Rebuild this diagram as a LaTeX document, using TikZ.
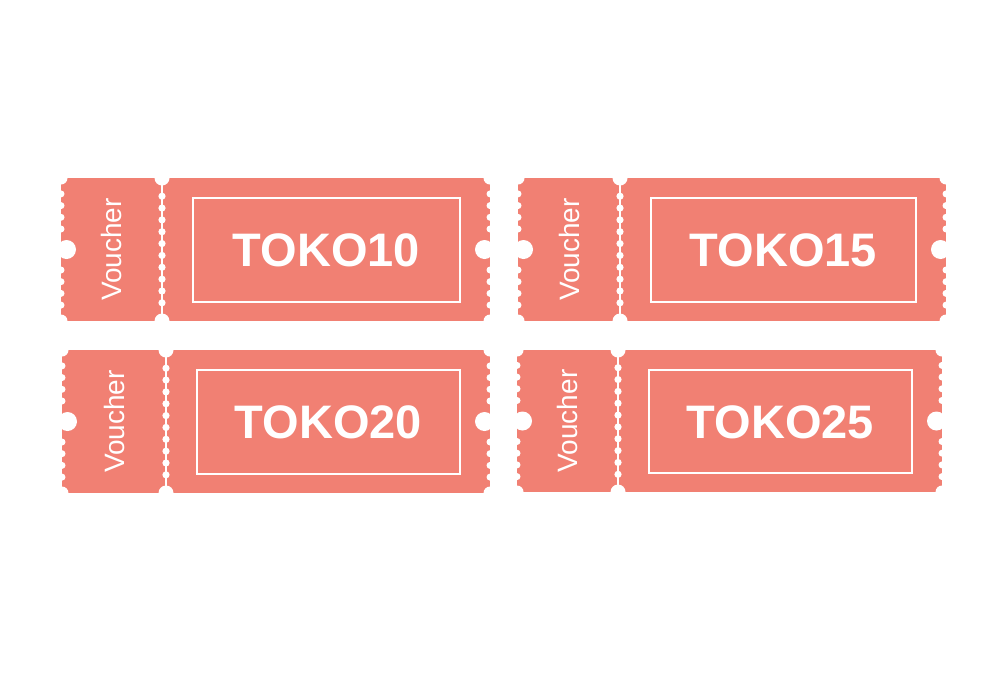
\documentclass[tikz,border=0pt]{standalone}
\usepackage{fontspec}
\setmainfont{Liberation Sans}
\definecolor{tk}{RGB}{241,128,115}
\tikzset{
  tkfill/.style={fill=tk},
  bite/.style={fill=white},
  frameline/.style={draw=white,line width=1.8pt},
  codetext/.style={text=white,font=\fontsize{47}{56}\selectfont\bfseries,inner sep=0pt},
  vtext/.style={text=white,font=\fontsize{28}{34}\selectfont,rotate=90,inner sep=0pt}
}
% #1 x0, #2 y0, #3 x1, #4 y1, #5 separator x, #6 code, #7 name
\newcommand{\myticket}[7]{%
  \fill[tkfill] (#1,#2) rectangle (#3,#4);
  \pgfmathsetmacro\cy{(#2+#4)/2}
  % corner bites
  \fill[bite] (#1,#2) circle (6.5pt);
  \fill[bite] (#1,#4) circle (6.5pt);
  \fill[bite] (#3,#2) circle (6.5pt);
  \fill[bite] (#3,#4) circle (6.5pt);
  % separator notches and perforation
  \fill[bite] (#5,#2) circle (7.5pt);
  \fill[bite] (#5,#4) circle (7.5pt);
  \draw[white,line width=1.2pt] (#5,#2) -- (#5,#4);
  \foreach \k in {-4.5,-3.5,...,4.5}{\fill[bite] (#5,\cy+\k*11.85) circle (3.6pt);}
  % edge scallops
  \foreach \s in {-1,1}{\foreach \k in {0,1,2,3}{%
    \fill[bite] (#1,\cy+\s*20.5+\s*\k*11.7) circle (3.5pt);
    \fill[bite] (#3,\cy+\s*20.5+\s*\k*11.7) circle (3.5pt);}}
  % side notches
  \fill[bite] (#1+5.5,\cy) circle (9.5pt);
  \fill[bite] (#3-5.5,\cy) circle (9.5pt);
  % inner frame
  \draw[frameline] (#5+31,#2+20) rectangle (#3-30,#4-19);
  \node[codetext] (#7code) at ({(#5+31+#3-30)/2},\cy+1) {#6};
  \node[vtext] (#7v) at ({(#1+#5)/2},\cy) {Voucher};
}
\begin{document}
\begin{tikzpicture}[x=1pt,y=-1pt]
  \fill[white] (0,0) rectangle (1008,672);
  \useasboundingbox (0,0) rectangle (1008,672);
  \myticket{61}{178}{490}{321}{162}{TOKO10}{ta}
  \myticket{518}{178}{946}{321}{620}{TOKO15}{tb}
  \myticket{62}{350}{490}{493}{166}{TOKO20}{tc}
  \myticket{517}{350}{942}{492}{618}{TOKO25}{td}
\end{tikzpicture}
\end{document}
